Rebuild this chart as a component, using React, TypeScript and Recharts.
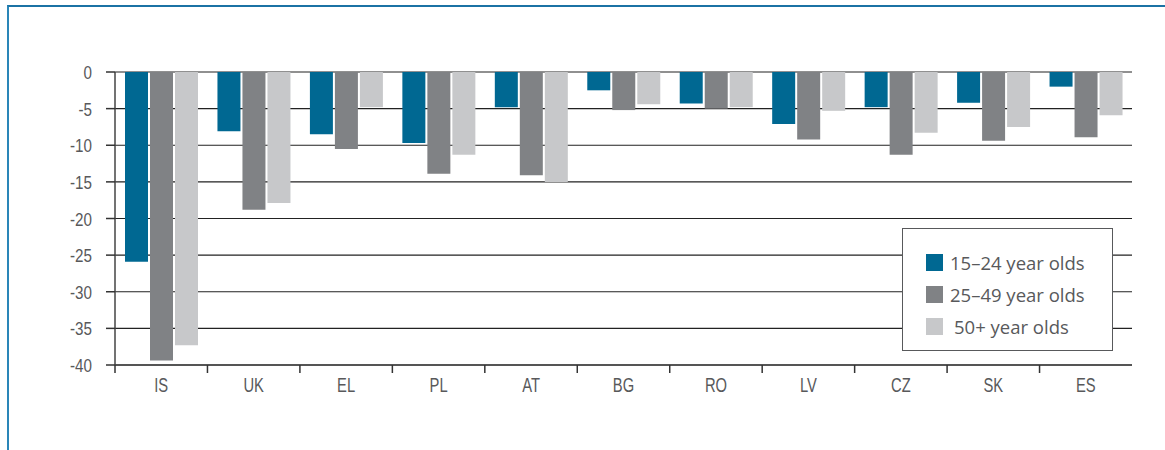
import React from "react";
import {
  BarChart,
  Bar,
  XAxis,
  YAxis,
  CartesianGrid,
} from "recharts";

const countries = ["IS", "UK", "EL", "PL", "AT", "BG", "RO", "LV", "CZ", "SK", "ES"];
const age15to24 = [-25.9, -8.1, -8.5, -9.7, -4.8, -2.5, -4.3, -7.1, -4.8, -4.2, -2.0];
const age25to49 = [-39.4, -18.8, -10.5, -13.9, -14.1, -5.2, -5.0, -9.2, -11.3, -9.4, -8.9];
const age50plus = [-37.3, -17.9, -4.8, -11.3, -15.0, -4.4, -4.8, -5.3, -8.3, -7.5, -5.9];
const yTicks = [0, -5, -10, -15, -20, -25, -30, -35, -40];

const series = [
  { key: "a", name: "15–24 year olds", color: "#006892" },
  { key: "b", name: "25–49 year olds", color: "#808285" },
  { key: "c", name: "50+ year olds", color: "#c7c8ca" },
];

const data = countries.map((c, i) => ({
  country: c,
  a: age15to24[i],
  b: age25to49[i],
  c: age50plus[i],
}));

const W = 1165;
const H = 450;
const xAxisHeight = 30;
const margin = { top: 72, right: 33, bottom: 85 - xAxisHeight, left: 0 };
const yAxisWidth = 115;
const plotWidth = W - margin.left - margin.right - yAxisWidth;
const band = plotWidth / countries.length;

const labelFont = "'Liberation Sans', Arial, sans-serif";
const labelColor = "#58595b";

// label in the middle of the band, tick mark on its left edge
// (text squeezed horizontally to look like the condensed original)
const CountryTick = (props: any) => {
  const { x, y, payload } = props;
  const left = x - band / 2;
  return (
    <g>
      <line x1={left} y1={y - 8} x2={left} y2={y} stroke="#333" strokeWidth={1.5} />
      <text
        transform={`translate(${x},${y + 19}) scale(0.72,1)`}
        textAnchor="middle"
        fill={labelColor}
        fontSize={20.5}
        fontFamily={labelFont}
      >
        {payload.value}
      </text>
    </g>
  );
};

const ValueTick = (props: any) => {
  const { x, y, payload } = props;
  return (
    <text
      transform={`translate(${x},${y + 7}) scale(0.8,1)`}
      textAnchor="end"
      fill={labelColor}
      fontSize={19}
      fontFamily={labelFont}
    >
      {payload.value}
    </text>
  );
};

const LegendBox = () => (
  <div
    style={{
      position: "absolute",
      left: 902,
      top: 228,
      width: 211,
      height: 123,
      border: "1.5px solid #58595b",
      background: "#fff",
      boxSizing: "border-box",
      paddingTop: 17,
      paddingLeft: 23,
    }}
  >
    {series.map((s, i) => (
      <div
        key={s.key}
        style={{
          display: "flex",
          alignItems: "center",
          height: 32,
          fontFamily: "'Open Sans', sans-serif",
          fontSize: 18.5,
          color: labelColor,
        }}
      >
        <span
          style={{
            width: 17,
            height: 17,
            background: s.color,
            marginRight: i === 2 ? 11 : 7,
            display: "inline-block",
          }}
        />
        {s.name}
      </div>
    ))}
  </div>
);

export default function App() {
  return (
    <div style={{ position: "absolute", left: 0, top: 0, width: W, height: H, background: "#fff", overflow: "hidden" }}>
      {/* blue frame */}
      <div
        style={{
          position: "absolute",
          left: 7,
          top: 5,
          width: W,
          height: H,
          borderTop: "2.5px solid #1b72a4",
          borderLeft: "2px solid #2a86b8",
        }}
      />
      <BarChart
        width={W}
        height={H}
        data={data}
        margin={margin}
        barSize={23}
        barGap={2}
        style={{ position: "absolute", left: 0, top: 0 }}
      >
        <CartesianGrid vertical={false} stroke="#222" strokeWidth={1.2} />
        <XAxis
          dataKey="country"
          height={xAxisHeight}
          axisLine={{ stroke: "#555", strokeWidth: 2 }}
          tickLine={false}
          tick={<CountryTick />}
          interval={0}
        />
        <YAxis
          width={yAxisWidth}
          domain={[-40, 0]}
          ticks={yTicks}
          interval={0}
          axisLine={{ stroke: "#444", strokeWidth: 1.5 }}
          tickLine={{ stroke: "#333", strokeWidth: 1.5 }}
          tickSize={9}
          tickMargin={14}
          tick={<ValueTick />}
        />
        <YAxis
          yAxisId="right"
          orientation="right"
          width={0}
          domain={[-40, 0]}
          tick={false}
          tickLine={false}
          axisLine={{ stroke: "#666", strokeWidth: 2 }}
        />
        {series.map((s) => (
          <Bar key={s.key} dataKey={s.key} name={s.name} fill={s.color} isAnimationActive={false} />
        ))}
      </BarChart>
      <LegendBox />
    </div>
  );
}
